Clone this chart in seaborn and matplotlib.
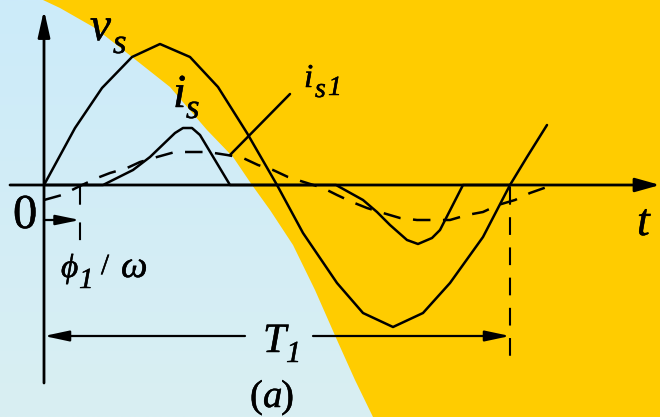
import numpy as np
import pandas as pd
import matplotlib
matplotlib.use('Agg')
import matplotlib.pyplot as plt
import matplotlib.patheffects as pe
import seaborn as sns
from matplotlib.patches import Polygon, Rectangle
from matplotlib.colors import LinearSegmentedColormap

# time in px-like units, origin at the axis crossing; one period T1 = 466
t_vs = [0, 31, 58, 88, 116, 146, 174, 203, 233, 259, 293, 319, 349, 379, 406, 439, 466, 483, 503]
v_vs = [0, 57, 97, 128, 141, 128, 98, 52, 0, -48, -98, -128, -142, -128, -98, -52, 0, 28, 60]

t_is = [0, 59, 89, 106, 131, 139, 148, 156, 186, 292, 319, 333, 346, 363, 374, 388, 396, 419, 466]
i_s = [0, 0, 15, 28, 52, 57, 57, 50, 0, 0, -15, -27, -40, -55, -59, -53, -45, 0, 0]

t_is1 = [0, 18, 36, 53, 66, 83, 96, 113, 131, 149, 164, 183, 199, 214, 229, 244, 263, 279,
         293, 308, 323, 339, 356, 373, 388, 406, 423, 439, 454, 471, 486, 503]
i_s1 = [-15, -10, -1, 7, 12, 17, 23, 28, 33, 33, 33, 30, 27, 20, 15, 8, 2, -3,
        -10, -17, -23, -28, -33, -35, -35, -35, -30, -27, -20, -15, -8, -2]

phi_delay = 36   # phi1 / omega
T1 = 466

# edge between the blue and the yellow background (picture px)
edge_x = [43, 60, 95, 127, 170, 207, 233, 252, 270, 293, 315, 337, 355, 373]
edge_y = [0, 8, 28, 53, 87, 130, 157, 185, 210, 245, 290, 340, 380, 417]

sns.set_style('white')
plt.rcParams['font.family'] = ['Liberation Serif', 'DejaVu Serif']

W, H = 660, 417
x0, y0 = 44, 185   # where the axes cross, in picture px

fig = plt.figure(figsize=(6.6, 4.17), dpi=100)
ax = fig.add_axes([0, 0, 1, 1])
ext = [-x0, W - x0, y0 - H, y0]

# background
ax.add_patch(Rectangle((ext[0], ext[2]), W, H, color='#FFCC00', zorder=0))
bx = [x - x0 for x in edge_x] + [-x0, -x0]
by = [y0 - y for y in edge_y] + [y0 - H, y0]
blue = Polygon(np.column_stack([bx, by]), closed=True, fc='none', ec='none')
ax.add_patch(blue)
cmap = LinearSegmentedColormap.from_list('bg', ['#CCEBFA', '#D9EFF2'])
grad = np.linspace(0, 1, 200).reshape(-1, 1)
im = ax.imshow(grad, extent=ext, aspect='auto', cmap=cmap, zorder=1)
im.set_clip_path(blue)

lw = 1.8
sns.lineplot(x=t_vs, y=v_vs, ax=ax, color='black', lw=lw, sort=False, estimator=None, zorder=5)
sns.lineplot(x=t_is, y=i_s, ax=ax, color='black', lw=lw, sort=False, estimator=None, zorder=5)
sns.lineplot(x=t_is1, y=i_s1, ax=ax, color='black', lw=lw, sort=False, estimator=None,
             linestyle=(0, (7, 5)), zorder=5)

# axes with arrow heads
ax.annotate('', xy=(W - x0, 0), xytext=(10 - x0, 0),
            arrowprops=dict(arrowstyle='-|>,head_length=1.5,head_width=0.42', mutation_scale=10,
                            lw=2, color='black', shrinkA=0, shrinkB=0), zorder=6)
ax.annotate('', xy=(0, y0 - 10), xytext=(0, y0 - 383),
            arrowprops=dict(arrowstyle='-|>,head_length=1.6,head_width=0.36', mutation_scale=10,
                            lw=2, color='black', shrinkA=0, shrinkB=0), zorder=6)

# phi1/omega marker
ax.plot([phi_delay, phi_delay], [-2, -60], color='black', lw=1.5, ls=(0, (8.5, 8.5)), zorder=6)
ax.annotate('', xy=(phi_delay, -35), xytext=(0, -35),
            arrowprops=dict(arrowstyle='-|>,head_length=1.45,head_width=0.3', mutation_scale=10,
                            lw=1.6, color='black', shrinkA=0, shrinkB=0), zorder=6)

# T1 marker
ax.plot([T1, T1], [-2, -177], color='black', lw=1.5, ls=(0, (8.5, 6)), zorder=6)
ax.annotate('', xy=(0, -151), xytext=(201, -151),
            arrowprops=dict(arrowstyle='-|>,head_length=1.5,head_width=0.32', mutation_scale=10,
                            lw=1.6, color='black', shrinkA=0, shrinkB=0), zorder=6)
ax.annotate('', xy=(T1, -151), xytext=(269, -151),
            arrowprops=dict(arrowstyle='-|>,head_length=1.5,head_width=0.32', mutation_scale=10,
                            lw=1.6, color='black', shrinkA=0, shrinkB=0), zorder=6)

# leader for i_s1
ax.plot([186, 246], [30, 91], color='black', lw=lw, zorder=6)

bold = [pe.withStroke(linewidth=0.35, foreground='black')]
up = dict(color='black', ha='left', va='baseline', zorder=7, path_effects=bold)
it = dict(up, fontstyle='italic')
ax.text(46, 145, 'v', fontsize=34, **it)
ax.text(69, 132, 's', fontsize=25, **it)
ax.text(129, 78, 'i', fontsize=34, **it)
ax.text(142, 67, 's', fontsize=25, **it)
ax.text(260, 98, 'i', fontsize=24, **it)
ax.text(271, 88, 's', fontsize=20, **it)
ax.text(284, 90, '1', fontsize=20, **it)
ax.text(593, -50, 't', fontsize=33, **it)
ax.text(-31, -43, '0', fontsize=35, **up)
ax.text(17, -92, 'ϕ', fontsize=24, **it)
ax.text(35, -103, '1', fontsize=21, **it)
ax.text(57, -89, '/', fontsize=21, **up)
ax.text(77, -92, 'ω', fontsize=27, **it)
ax.text(219, -167, 'T', fontsize=30, **it)
ax.text(242, -177, '1', fontsize=22, **it)
ax.text(206, -222, '(', fontsize=28, **up)
ax.text(219, -222, 'a', fontsize=28, **it)
ax.text(237, -222, ')', fontsize=28, **up)

ax.set_xlim(ext[0], ext[1])
ax.set_ylim(ext[2], ext[3])
ax.axis('off')
fig.savefig('out.png', dpi=100)
